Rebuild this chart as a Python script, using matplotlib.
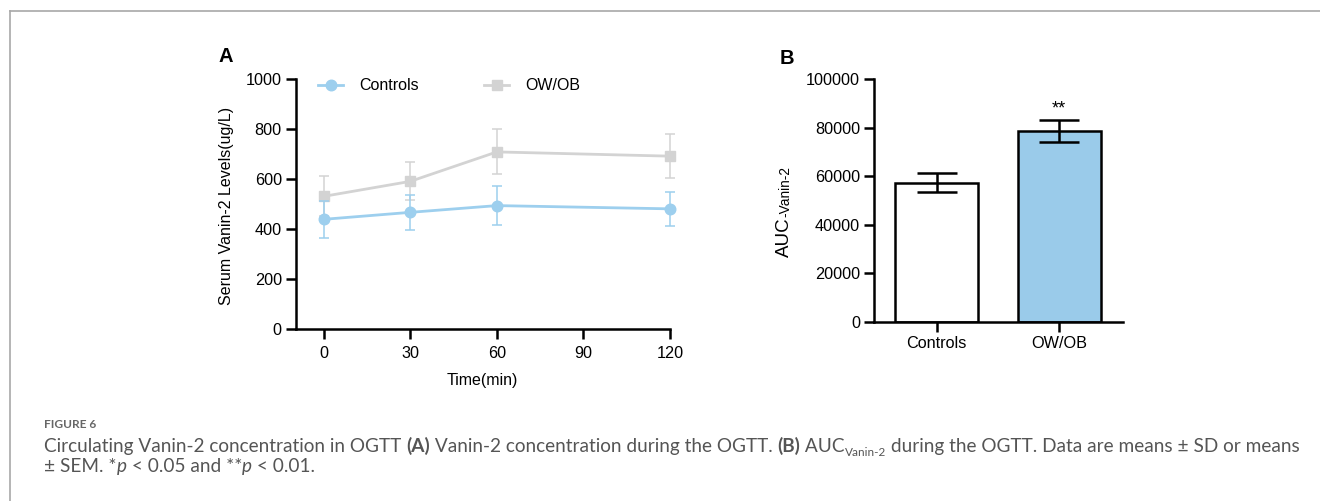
import matplotlib
matplotlib.use('Agg')
import matplotlib.pyplot as plt
from matplotlib.lines import Line2D

# ---------------- data ----------------
time_min = [0, 30, 60, 120]
controls_mean = [438, 466, 493, 480]
controls_sd = [74, 70, 78, 68]
owob_mean = [530, 590, 708, 691]
owob_sd = [80, 76, 90, 89]
series_labels = ["Controls", "OW/OB"]

groups = ["Controls", "OW/OB"]
auc_mean = [57400, 78600]
auc_sem = [3800, 4600]

x_ticks_A = [0, 30, 60, 90, 120]
y_ticks_A = [0, 200, 400, 600, 800, 1000]
y_ticks_B = [0, 20000, 40000, 60000, 80000, 100000]

# ---------------- layout helpers ----------------
W, H = 1320, 501
fig = plt.figure(figsize=(W / 100, H / 100), dpi=100)
fig.patch.set_facecolor('white')
plt.rcParams['font.family'] = ['Liberation Sans', 'DejaVu Sans']


def fx(x):
    return x / W


def fy(y):
    return 1 - y / H


BLUE = '#9DCFEE'
BLUE_BAR = '#9ACBEA'
GRAY = '#D3D3D3'
SPW = 1.8
TICK_FS = 11.7

renderer = fig.canvas.get_renderer()

# ---------------- border ----------------
fig.add_artist(Line2D([fx(9.5), fx(1320)], [fy(10.5), fy(10.5)], transform=fig.transFigure,
                      color='#a8a8a8', lw=1.2))
fig.add_artist(Line2D([fx(9.5), fx(9.5)], [fy(10.5), fy(501)], transform=fig.transFigure,
                      color='#a8a8a8', lw=1.2))

# ---------------- panel A ----------------
axA = fig.add_axes([fx(296), fy(328.7), fx(670) - fx(296), (328.7 - 79) / H])
eb_o = axA.errorbar(time_min, owob_mean, yerr=owob_sd, color=GRAY, marker='s', ms=7.8,
                    lw=2.0, elinewidth=1.1, capsize=3.6, capthick=1.1, clip_on=False, zorder=3)
eb_c = axA.errorbar(time_min, controls_mean, yerr=controls_sd, color=BLUE, marker='o', ms=7.6,
                    lw=2.0, elinewidth=1.1, capsize=3.6, capthick=1.1, clip_on=False, zorder=4)
axA.set_xlim(-9.6, 120)
axA.set_ylim(0, 1000)
axA.set_xticks(x_ticks_A)
axA.set_yticks(y_ticks_A)
for s in ['top', 'right']:
    axA.spines[s].set_visible(False)
for s in ['left', 'bottom']:
    axA.spines[s].set_linewidth(SPW)
axA.tick_params(axis='both', direction='out', length=7.2, width=SPW, labelsize=TICK_FS)
axA.tick_params(axis='y', pad=3)
axA.tick_params(axis='x', pad=5)
for sp in axA.spines.values():
    sp.set_capstyle('projecting')

leg = axA.legend(handles=[eb_c[0], eb_o[0]], labels=series_labels, ncol=2, frameon=False,
                 loc='center left', bbox_to_anchor=(fx(318), fy(86)), bbox_transform=fig.transFigure,
                 borderpad=0, borderaxespad=0, handlelength=1.57, handletextpad=1.0,
                 columnspacing=4.1, fontsize=11.5)

fig.text(fx(226.7), fy(206), 'Serum Vanin-2 Levels(ug/L)', rotation=90, ha='center', va='center',
         fontsize=11.5)
fig.text(fx(482.7), fy(380), 'Time(min)', ha='center', va='center', fontsize=11.5)
fig.text(fx(226), fy(57), 'A', ha='center', va='center', fontsize=14.5, fontweight='bold')

# ---------------- panel B ----------------
axB = fig.add_axes([fx(874.3), fy(322), fx(1122.7) - fx(874.3), (322 - 79.3) / H])
xpos = list(range(len(groups)))
axB.bar(xpos, auc_mean, width=0.68, color=['white', BLUE_BAR], edgecolor='black',
        linewidth=SPW, zorder=2)
axB.errorbar(xpos, auc_mean, yerr=auc_sem, fmt='none', ecolor='black', elinewidth=1.8,
             capsize=14.4, capthick=1.8, zorder=3)
axB.set_xlim(-0.509, 1.518)
axB.set_ylim(0, 100000)
axB.set_xticks(xpos)
axB.set_xticklabels(groups)
axB.set_yticks(y_ticks_B)
for s in ['top', 'right']:
    axB.spines[s].set_visible(False)
for s in ['left', 'bottom']:
    axB.spines[s].set_linewidth(SPW)
axB.tick_params(axis='both', direction='out', length=7.2, width=SPW, labelsize=TICK_FS)
axB.tick_params(axis='y', pad=3)
axB.tick_params(axis='x', pad=3)
axB.annotate('**', xy=(xpos[1], auc_mean[1] + auc_sem[1]), xytext=(0, 2),
             textcoords='offset points', ha='center', va='bottom', fontsize=13)

fig.text(fx(787), fy(58), 'B', ha='center', va='center', fontsize=14.5, fontweight='bold')

# rotated composite label AUC-Vanin-2
t1 = fig.text(fx(789), fy(256.7), 'AUC', rotation=90, rotation_mode='anchor', ha='left',
              va='baseline', fontsize=13.5)
w1 = t1.get_window_extent(renderer).height
fig.text(fx(789), fy(256.7 - w1 - 0.5), '-Vanin-2', rotation=90, rotation_mode='anchor', ha='left',
         va='baseline', fontsize=9.8)

# ---------------- caption ----------------
CAP_FONT = ['Lato', 'DejaVu Sans']
CAP_COL = '#555555'


def seg_width(text, size, **kw):
    t = fig.text(0, 0, '|' + text + '|', fontsize=size, family=CAP_FONT, **kw)
    t2 = fig.text(0, 0, '||', fontsize=size, family=CAP_FONT, **kw)
    w = t.get_window_extent(renderer).width - t2.get_window_extent(renderer).width
    t.remove()
    t2.remove()
    return w


def rich_line(segments, x0, ybase, size, draw=True):
    x = x0
    for text, style in segments:
        kw = {}
        s = size
        dy = 0
        if style == 'b':
            kw['fontweight'] = 'bold'
        elif style == 'i':
            kw['fontstyle'] = 'italic'
        elif style == 'sub':
            s = size * 0.62
            dy = size * 0.3
        w = seg_width(text, s, **kw)
        if draw:
            fig.text(fx(x), fy(ybase + dy), text, fontsize=s, family=CAP_FONT, color=CAP_COL,
                     ha='left', va='baseline', **kw)
        x += w
    return x - x0


line1 = [("Circulating Vanin-2 concentration in OGTT ", 'n'), ("(A)", 'b'),
         (" Vanin-2 concentration during the OGTT. ", 'n'), ("(B)", 'b'), (" AUC", 'n'),
         ("Vanin-2", 'sub'), (" during the OGTT. Data are means \u00b1 SD or means", 'n')]
line2 = [("\u00b1 SEM. *", 'n'), ("p", 'i'), (" < 0.05 and **", 'n'), ("p", 'i'), (" < 0.01.", 'n')]

base = 10.0
w0 = rich_line(line1, 44, 452, base, draw=False)
cap_size = base * (1297 - 44) / w0
rich_line(line1, 44, 452, cap_size)
rich_line(line2, 44, 472, cap_size)
fig.text(fx(44), fy(428), 'FIGURE 6', fontsize=8.6, family=CAP_FONT, color='#666666',
         fontweight='bold', ha='left', va='baseline')

fig.savefig('out.png', dpi=100, facecolor='white')
